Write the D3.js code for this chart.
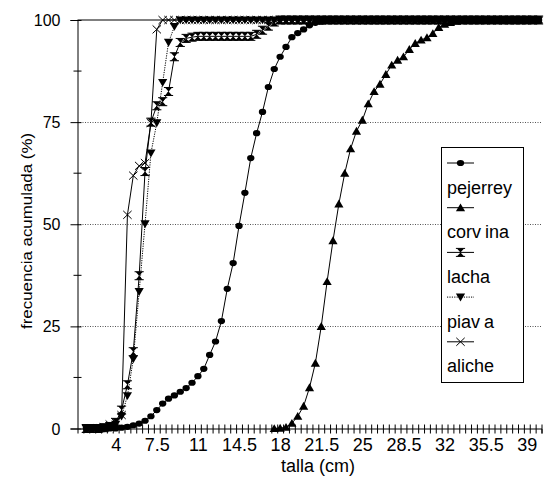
<!DOCTYPE html>
<html>
<head>
<meta charset="utf-8">
<script src="https://cdn.jsdelivr.net/npm/d3@7"></script>
<style>
  body { margin: 0; background: #fff; }
  svg { display: block; }
  text { font-family: "Liberation Sans", Arial, sans-serif; fill: #000; }
</style>
</head>
<body>
<svg id="chart" width="545" height="477"></svg>
<script>
// Length classes (cm) shared by every species
const tallas = [1.5,2,2.5,3,3.5,4,4.5,5,5.5,6,6.5,7,7.5,8,8.5,9,9.5,10,10.5,11,11.5,12,12.5,13,13.5,14,14.5,15,15.5,16,16.5,17,17.5,18,18.5,19,19.5,20,20.5,21,21.5,22,22.5,23,23.5,24,24.5,25,25.5,26,26.5,27,27.5,28,28.5,29,29.5,30,30.5,31,31.5,32,32.5,33,33.5,34,34.5,35,35.5,36,36.5,37,37.5,38,38.5,39,39.5,40];

// Cumulative frequency (%) per species, one value per length class
const pejerrey = [0,0,0,0,0,0,0.2,0.4,0.8,1.2,1.9,3.0,4.5,6.1,7.3,8.1,9.0,9.9,11.2,12.8,14.6,18.0,21.3,26.3,34.2,40.5,49.6,57.7,66.2,72.3,77.5,83.6,88.0,91.0,93.4,95.8,96.8,97.7,98.7,99.3,99.6,99.8,
  100,100,100,100,100,100,100,100,100,100,100,100,100,100,100,100,100,100,100,100,100,100,100,100,100,100,100,100,100,100,100,100,100,100,100,100];
const corvina = [null,null,null,null,null,null,null,null,null,null,null,null,null,null,null,null,null,null,null,null,null,null,null,null,null,null,null,null,null,null,null,null,
  0,0.1,0.3,1.3,3.0,5.5,10.0,16.0,25.0,36.0,46.0,55.0,62.5,68.5,72.8,75.5,79.5,82.5,84.3,86.7,89.0,90.2,91.0,92.8,94.3,95.1,95.7,96.7,98.2,99.0,99.4,99.7,
  100,100,100,100,100,100,100,100,100,100,100,100,100,100];
const lacha = [0,0,0,0.2,0.5,1.5,4.5,10.7,18.8,37.4,62.9,75.0,79.0,80.0,82.5,91.0,94.5,95.5,95.8,
  96,96,96,96,96,96,96,96,96,96,96.5,97.5,98.5,99.5,
  100,100,100,100,100,100,100,100,100,100,100,100,100,100,100,100,100,100,100,100,100,100,100,100,100,100,100,100,100,100,100,100,100,100,100,100,100,100,100,100,100,100,100,100,100];
const piava = [0,0,0,0,0.5,1.0,3.0,8.0,17.0,33.5,50.1,67.4,74.8,84.7,94.5,98.4,
  100,100,100,100,100,100,100,100,100,100,100,100,100,100,100,100,100,100,100,100,100,100,100,100,100,100,100,100,100,100,100,100,100,100,100,100,100,100,100,100,100,100,100,100,100,100,100,100,100,100,100,100,100,100,100,100,100,100,100,100,100,100];
const aliche = [0,0,0,0.3,1.0,1.5,3.3,52.3,61.9,64.3,65.0,74.8,97.7,
  100,100,100,100,100,100,100,100,100,100,100,100,100,100,100,100,100,100,100,100,100,100,100,100,100,100,100,100,100,100,100,100,100,100,100,100,100,100,100,100,100,100,100,100,100,100,100,100,100,100,100,100,100,100,100,100,100,100,100,100,100,100,100,100];

const seriesNames = ["pejerrey", "corvina", "lacha", "piava", "aliche"];
const seriesValues = [pejerrey, corvina, lacha, piava, aliche];

// Axis labels
const tallaTicks = [4, 7.5, 11, 14.5, 18, 21.5, 25, 28.5, 32, 35.5, 39];
const pctTicks = [0, 25, 50, 75, 100];
const pctMinorTicks = [12.5, 37.5, 62.5, 87.5];

// Marker shapes, centred on the point
const markerDefs = {
  pejerrey: { fill: "M-3.7,0a3.7,3.1 0 1,0 7.4,0a3.7,3.1 0 1,0 -7.4,0Z", stroke: null },
  corvina:  { fill: "M0,-4.3L4.6,3.6L-4.6,3.6Z", stroke: null },
  lacha:    { fill: "M-3.6,-4L3.6,-4L0,0ZM-3.6,4L3.6,4L0,0Z", stroke: "M-4.6,-4H4.6M-4.6,4H4.6" },
  piava:    { fill: "M0,4.3L4.6,-3.6L-4.6,-3.6Z", stroke: null },
  aliche:   { fill: null, stroke: "M-4.2,-4L4.2,4M-4.2,4L4.2,-4" }
};
const lineDash = { pejerrey: null, corvina: null, lacha: null, piava: "1.2,1.2", aliche: null };

const svg = d3.select("#chart");
const plotLeft = 77.5, plotRight = 541.5, plotTop = 20, plotBottom = 428.5;

const x = d3.scaleLinear().domain([0.75, 40.25]).range([plotLeft, plotRight]);
const y = d3.scaleLinear().domain([0, 100]).range([plotBottom, plotTop]);

// Horizontal gridlines (dotted) and the solid line at 100 %
svg.append("g").selectAll("line")
  .data(pctTicks.filter(v => v > 0 && v < 100))
  .join("line")
  .attr("x1", plotLeft).attr("x2", plotRight)
  .attr("y1", d => Math.round(y(d)) + 0.5).attr("y2", d => Math.round(y(d)) + 0.5)
  .attr("stroke", "#555").attr("stroke-width", 1).attr("stroke-dasharray", "1,1.5");
svg.append("line")
  .attr("x1", plotLeft).attr("x2", plotRight)
  .attr("y1", y(100)).attr("y2", y(100))
  .attr("stroke", "#000").attr("stroke-width", 1);

// Y axis: labels and crossing tick marks
const yAxis = svg.append("g").attr("transform", `translate(${plotLeft},0)`)
  .call(d3.axisLeft(y).tickValues(pctTicks).tickSize(7).tickPadding(10).tickFormat(d3.format("d")));
yAxis.select(".domain").attr("stroke", "#000");
yAxis.selectAll(".tick line").attr("x1", 4).attr("x2", -7).attr("stroke", "#000");
yAxis.selectAll(".tick text").attr("font-size", 16).attr("font-family", "Liberation Sans, Arial, sans-serif").attr("dy", "0.35em");
svg.append("g").selectAll("line").data(pctMinorTicks).join("line")
  .attr("x1", plotLeft - 4).attr("x2", plotLeft + 4)
  .attr("y1", d => y(d)).attr("y2", d => y(d))
  .attr("stroke", "#000");

// X axis: a tick between every length class, labels every 3.5 cm
const boundaries = tallas.map(t => t - 0.25).concat([tallas[tallas.length - 1] + 0.25]);
const xTicks = svg.append("g").attr("transform", `translate(0,${plotBottom})`)
  .call(d3.axisBottom(x).tickValues(boundaries).tickSize(5).tickFormat(""));
xTicks.select(".domain").attr("stroke", "#000");
xTicks.selectAll(".tick line").attr("y1", -4).attr("y2", 5).attr("stroke", "#000");
const xLabels = svg.append("g").attr("transform", `translate(0,${plotBottom})`)
  .call(d3.axisBottom(x).tickValues(tallaTicks).tickSize(0).tickPadding(10).tickFormat(d3.format("")));
xLabels.select(".domain").remove();
xLabels.selectAll(".tick text").attr("font-size", 18).attr("font-family", "Liberation Sans, Arial, sans-serif").attr("dy", "0.71em");

// Axis titles
svg.append("text")
  .attr("x", 318).attr("y", 472)
  .attr("text-anchor", "middle").attr("font-size", 18)
  .text("talla (cm)");
svg.append("text")
  .attr("transform", "translate(32,231) rotate(-90)")
  .attr("text-anchor", "middle").attr("font-size", 14)
  .attr("textLength", 196).attr("lengthAdjust", "spacingAndGlyphs")
  .text("frecuencia acumulada (%)");

// Series lines and markers
const plot = svg.append("g");
seriesNames.forEach((name, si) => {
  const pts = tallas.map((t, i) => ({ t, v: seriesValues[si][i] })).filter(d => d.v != null);
  const line = d3.line().x(d => x(d.t)).y(d => y(d.v));
  plot.append("path")
    .attr("d", line(pts))
    .attr("fill", "none")
    .attr("stroke", "#000")
    .attr("stroke-width", 1)
    .attr("stroke-dasharray", lineDash[name]);
  const m = markerDefs[name];
  const g = plot.append("g").selectAll("g").data(pts).join("g")
    .attr("transform", d => `translate(${x(d.t)},${y(d.v)})`);
  if (m.fill) g.append("path").attr("d", m.fill).attr("fill", "#000");
  if (m.stroke) g.append("path").attr("d", m.stroke).attr("fill", "none").attr("stroke", "#000").attr("stroke-width", 1);
});

// Legend
const legend = svg.append("g");
legend.append("rect")
  .attr("x", 441.5).attr("y", 147.5).attr("width", 82).attr("height", 235)
  .attr("fill", "#fff").attr("stroke", "#000").attr("stroke-width", 1);
seriesNames.forEach((name, i) => {
  const ly = 163 + i * 44.7;
  legend.append("line")
    .attr("x1", 447).attr("x2", 474).attr("y1", ly).attr("y2", ly)
    .attr("stroke", "#000").attr("stroke-width", 1)
    .attr("stroke-dasharray", lineDash[name]);
  const m = markerDefs[name];
  const mg = legend.append("g").attr("transform", `translate(460.5,${ly})`);
  if (m.fill) mg.append("path").attr("d", m.fill).attr("fill", "#000");
  if (m.stroke) mg.append("path").attr("d", m.stroke).attr("fill", "none").attr("stroke", "#000");
  const label = legend.append("text")
    .attr("x", 447).attr("y", ly + 30.5)
    .attr("font-size", 18);
  if (name === "corvina" || name === "piava") {
    // the legend font leaves a visible gap after the "v"
    const cut = name.indexOf("v") + 1;
    label.append("tspan").text(name.slice(0, cut));
    label.append("tspan").attr("dx", 4).text(name.slice(cut));
  } else {
    label.text(name);
  }
});
</script>
</body>
</html>
